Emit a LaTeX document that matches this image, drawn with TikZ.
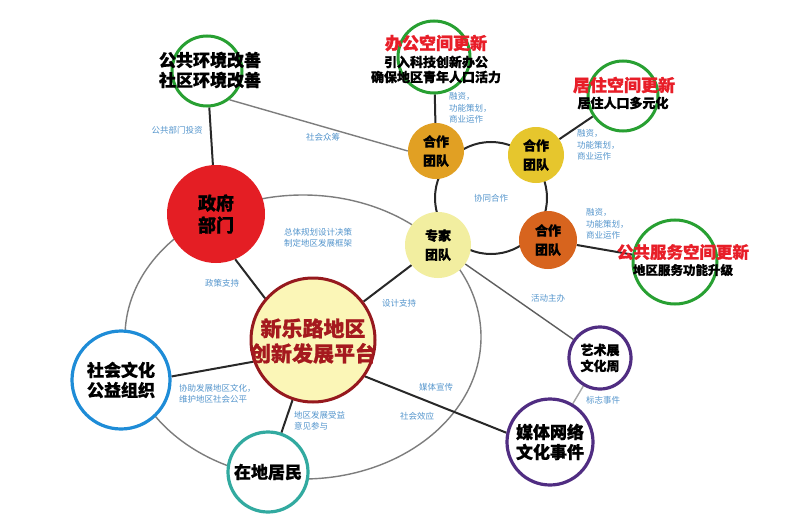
\documentclass[tikz,border=0pt]{standalone}
\usepackage{fontspec}
\setmainfont{Noto Sans CJK SC}
\newfontfamily\heavyface{Noto Sans CJK SC}[BoldFeatures={FakeBold=0.9}]
\newcommand\heavyfont{\heavyface\bfseries}
\usepackage{tikz}
\definecolor{mygreen}{RGB}{40,160,50}
\definecolor{myred}{RGB}{228,30,36}
\definecolor{titlered}{RGB}{232,30,40}
\definecolor{platfill}{RGB}{251,246,183}
\definecolor{platframe}{RGB}{150,25,30}
\definecolor{plattext}{RGB}{165,25,30}
\definecolor{myblue}{RGB}{30,140,215}
\definecolor{myteal}{RGB}{50,170,160}
\definecolor{mypurple}{RGB}{80,45,130}
\definecolor{teamorange}{RGB}{225,160,35}
\definecolor{teamyellow}{RGB}{230,198,45}
\definecolor{teamrust}{RGB}{215,100,30}
\definecolor{expertfill}{RGB}{242,238,160}
\definecolor{mydark}{RGB}{40,40,40}
\definecolor{mygrey}{RGB}{125,125,125}
\definecolor{notecol}{RGB}{85,150,205}
\pgfdeclarelayer{background}
\pgfsetlayers{background,main}
\tikzset{
  goalring/.style={circle, draw=mygreen, line width=3pt, inner sep=0pt},
  ring/.style={circle, fill=white, line width=3.2pt, inner sep=0pt, align=center,
    font=\heavyfont\fontsize{17}{20}\selectfont},
  team/.style={circle, inner sep=0pt, minimum size=56pt, align=center,
    font=\heavyfont\fontsize{13}{19}\selectfont},
  heading/.style={align=center, font=\heavyfont\fontsize{17}{20}\selectfont},
  redhead/.style={align=center, text=titlered, font=\heavyfont\fontsize{17}{20}\selectfont},
  subhead/.style={align=center, font=\heavyfont\fontsize{13}{15}\selectfont},
  note/.style={align=left, inner sep=1pt, text=notecol, font=\fontsize{8.5}{11.5}\selectfont},
  line/.style={line width=2pt, color=mydark},
  greyline/.style={line width=1.4pt, color=mygrey}
}

\begin{document}
\begin{tikzpicture}[x=1pt, y=-1pt]
    \useasboundingbox (0,0) rectangle (790,527);

    % cooperation ring and teams
    \node[note, circle, draw=mydark, line width=2pt, minimum size=112pt, align=center] (hub) at (491,198) {协同合作};
    \node[team, fill=teamorange] (teamA) at (436,151) {合作\\团队};
    \node[team, fill=teamyellow] (teamB) at (536,155) {合作\\团队};
    \node[team, fill=teamrust, minimum size=58pt] (teamC) at (548,240) {合作\\团队};
    \node[team, fill=expertfill, minimum size=66pt] (expert) at (438,245) {专家\\团队};

    % green goals
    \node[goalring, minimum size=70pt] (envring) at (207,71) {};
    \node[goalring, minimum size=72pt] (officering) at (434,57) {};
    \node[goalring, minimum size=70pt] (livering) at (623,96) {};
    \node[goalring, minimum size=84pt] (servring) at (675,262) {};

    \node[heading] (envtext) at (210,70) {公共环境改善\\社区环境改善};
    \node[redhead] (officetitle) at (436,43) {办公空间更新};
    \node[subhead] (officetext) at (436,69.5) {引入科技创新办公\\确保地区青年人口活力};
    \node[redhead] (livetitle) at (624,85) {居住空间更新};
    \node[subhead] (livetext) at (623,103) {居住人口多元化};
    \node[redhead, font=\heavyfont\fontsize{16.5}{20}\selectfont] (servtitle) at (683,252) {公共服务空间更新};
    \node[subhead, font=\heavyfont\fontsize{12.5}{15}\selectfont] (servtext) at (683,270) {地区服务功能升级};

    % main actors
    \node[circle, fill=myred, minimum size=98pt, inner sep=0pt, align=center,
      font=\heavyfont\fontsize{18}{22}\selectfont] (gov) at (216,214) {政府\\部门};
    \node[circle, fill=platfill, draw=platframe, line width=3pt, minimum size=124pt] (platform) at (313,340) {};
    \node[heading, text=plattext, font=\heavyfont\fontsize{21}{25}\selectfont] (plattext) at (313,341) {新乐路地区\\创新发展平台};
    \node[ring, draw=myblue, minimum size=98pt] (social) at (121,380) {社会文化\\公益组织};
    \node[ring, draw=myteal, minimum size=80pt] (resident) at (268,472) {在地居民};
    \node[ring, draw=mypurple, minimum size=62pt, font=\heavyfont\fontsize{13}{16}\selectfont] (art) at (600,358) {艺术展\\文化周};
    \node[ring, draw=mypurple, minimum size=86pt] (media) at (550,442) {媒体网络\\文化事件};

    % link labels
    \node[note] (lblinvest) at (177,130) {公共部门投资};
    \node[note] (lblcrowd) at (323,137) {社会众筹};
    \node[note, anchor=west] (lblfundA) at (448,108) {融资，\\功能策划，\\商业运作};
    \node[note, anchor=west] (lblfundB) at (576,145) {融资，\\功能策划，\\商业运作};
    \node[note, anchor=west] (lblfundC) at (585,224) {融资，\\功能策划，\\商业运作};
    \node[note] (lblplan) at (318,238) {总体规划设计决策\\制定地区发展框架};
    \node[note] (lblpolicy) at (222,283) {政策支持};
    \node[note] (lbldesign) at (399,303) {设计支持};
    \node[note] (lblhost) at (548,298) {活动主办};
    \node[note, anchor=west] (lblculture) at (178,393.5) {协助发展地区文化，\\维护地区社会公平};
    \node[note, anchor=west] (lblbenefit) at (293,421) {地区发展受益\\意见参与};
    \node[note] (lblpress) at (436,387) {媒体宣传};
    \node[note] (lbleffect) at (417,416) {社会效应};
    \node[note] (lblevent) at (603,400) {标志事件};

    % connectors behind everything
    \begin{pgfonlayer}{background}
      \fill[white] (0,0) rectangle (790,527);
      \draw[greyline] (303,337) ellipse [x radius=178, y radius=142];
      \draw[line] (envring) -- (gov);
      \draw[greyline] (envring.-52) -- (teamA.west);
      \draw[line] (officering) -- (teamA);
      \draw[line] (teamB) -- (livering);
      \draw[line] (teamC) -- (servring);
      \draw[line] (gov.-67) -- (platform.139);
      \draw[line] (social.4) -- (platform.200);
      \draw[line] (resident) -- (platform);
      \draw[line] (platform.-35) -- (media.168);
      \draw[line] (expert) -- (platform);
      \draw[greyline, color=mydark!75] (expert) -- (art);
      \draw[greyline, color=mygrey!70] (art) -- (media);
    \end{pgfonlayer}
\end{tikzpicture}
\end{document}
